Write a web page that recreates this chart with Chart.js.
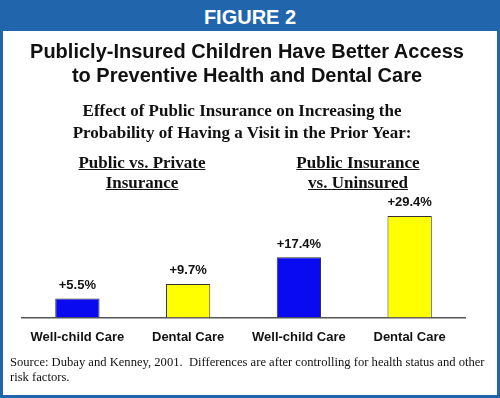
<!DOCTYPE html>
<html>
<head>
<meta charset="utf-8">
<script src="https://cdn.jsdelivr.net/npm/chart.js@4/dist/chart.umd.min.js"></script>
<style>
  body { margin: 0; background: #fff; }
  #frame { position: relative; width: 500px; height: 398px; box-sizing: border-box; border: 3px solid #2166ac; overflow: hidden; }
  #head { position: absolute; left: 0; top: 0; width: 494px; height: 28px; background: #2166ac; color: #fff;
          font: bold 20px "Liberation Sans", Arial, sans-serif; text-align: center; line-height: 29px; }
  .t { position: absolute; left: 0; width: 494px; text-align: center; }
  #title { top: 36px; left: -3px; font: bold 20px "Liberation Sans", Arial, sans-serif; line-height: 24px; color: #111; }
  #sub { top: 97px; left: -8px; font: bold 17px "Liberation Serif", "Times New Roman", serif; line-height: 22px; color: #111; }
  .grp { position: absolute; top: 150px; width: 200px; text-align: center; text-decoration: underline;
         font: bold 17px "Liberation Serif", "Times New Roman", serif; line-height: 20px; color: #111; }
  #src { position: absolute; left: 7px; top: 352px; width: 488px; font: 12.6px "Liberation Serif", "Times New Roman", serif; line-height: 15px; color: #111; }
  canvas { position: absolute; left: 0; top: 0; }
</style>
</head>
<body>
<div id="frame">
  <canvas id="myChart" width="494" height="354"></canvas>
  <div id="head">FIGURE 2</div>
  <div class="t" id="title">Publicly-Insured Children Have Better Access<br>to Preventive Health and Dental Care</div>
  <div class="t" id="sub">Effect of Public Insurance on Increasing the<br>Probability of Having a Visit in the Prior Year:</div>
  <div class="grp" style="left:39px">Public vs. Private<br>Insurance</div>
  <div class="grp" style="left:255px">Public Insurance<br>vs. Uninsured</div>
  <div id="src">Source: Dubay and Kenney, 2001.&nbsp; Differences are after controlling for health status and other risk factors.</div>
</div>
<script>
const categories = ['Well-child Care', 'Dental Care', 'Well-child Care', 'Dental Care'];
const values = [5.5, 9.7, 17.4, 29.4];
const valueLabels = ['+5.5%', '+9.7%', '+17.4%', '+29.4%'];
const barColors = ['#0a0af0', '#ffff00', '#0a0af0', '#ffff00'];

const valueLabelPlugin = {
  id: 'valueLabels',
  afterDatasetsDraw(chart) {
    const ctx = chart.ctx;
    const meta = chart.getDatasetMeta(0);
    ctx.save();
    ctx.font = 'bold 13px "Liberation Sans", Arial, sans-serif';
    ctx.fillStyle = '#111';
    ctx.textAlign = 'center';
    ctx.textBaseline = 'middle';
    meta.data.forEach((bar, i) => {
      ctx.fillText(valueLabels[i], bar.x, bar.y - 13);
    });
    ctx.restore();
  }
};

const ctx = document.getElementById('myChart').getContext('2d');
const chart = new Chart(ctx, {
  type: 'bar',
  data: {
    labels: categories,
    datasets: [
      {
        data: values,
        backgroundColor: barColors,
        borderColor: '#333',
        borderWidth: 1,
        categoryPercentage: 1,
        barPercentage: 0.4
      }
    ]
  },
  options: {
    responsive: false,
    animation: false,
    layout: { padding: { left: 19, right: 32, top: 197, bottom: 0 } },
    plugins: { legend: { display: false }, tooltip: { enabled: false } },
    scales: {
      x: {
        grid: { display: false, drawTicks: false },
        border: { display: true, color: '#555', width: 1.5 },
        ticks: { padding: 12, color: '#111', font: { family: '"Liberation Sans", Arial, sans-serif', size: 13, weight: 'bold' } }
      },
      y: { display: false, min: 0, max: 34 }
    }
  },
  plugins: [valueLabelPlugin]
});
</script>
</body>
</html>
